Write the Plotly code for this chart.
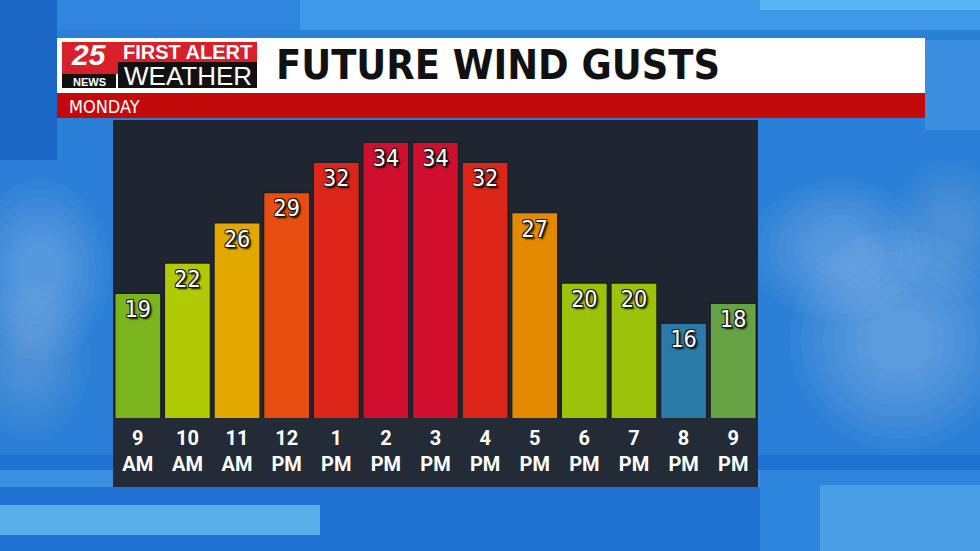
import plotly.graph_objects as go

# ---- data ----
hours = ["9 AM", "10 AM", "11 AM", "12 PM", "1 PM", "2 PM", "3 PM",
         "4 PM", "5 PM", "6 PM", "7 PM", "8 PM", "9 PM"]
tick_labels = ["9<br>AM", "10<br>AM", "11<br>AM", "12<br>PM", "1<br>PM", "2<br>PM",
               "3<br>PM", "4<br>PM", "5<br>PM", "6<br>PM", "7<br>PM", "8<br>PM", "9<br>PM"]
gusts = [19, 22, 26, 29, 32, 34, 34, 32, 27, 20, 20, 16, 18]
bar_colors = ["#7ab51d", "#b0cb05", "#e2a800", "#e84e0f", "#dc2418", "#d00e2e", "#d00e2e",
              "#dc2418", "#e38a00", "#9cc30a", "#9cc30a", "#2a7ba8", "#65a344"]
title_text = "FUTURE WIND GUSTS"
day_text = "MONDAY"

W, H = 980, 551


def px(x):
    return x / W


def py(y):
    return 1 - y / H


def rect(x0, y0, x1, y1, color, layer="below", opacity=1.0):
    return dict(type="rect", xref="paper", yref="paper",
                x0=px(x0), x1=px(x1), y0=py(y1), y1=py(y0),
                fillcolor=color, line=dict(width=0), layer=layer, opacity=opacity)


def ellipse(cx, cy, rx, ry, color, opacity):
    return dict(type="circle", xref="paper", yref="paper",
                x0=px(cx - rx), x1=px(cx + rx), y0=py(cy + ry), y1=py(cy - ry),
                fillcolor=color, line=dict(width=0), layer="below", opacity=opacity)


def cloud(cx, cy, rx, ry, opacity):
    # soft-edged blob from stacked translucent ellipses
    out = []
    for k in range(8):
        f = 1 - k * 0.1
        out.append(ellipse(cx, cy, rx * f, ry * f, "white", opacity))
    return out


outline = ("-1px -1px 0 #1a1a1a, 1px -1px 0 #1a1a1a, -1px 1px 0 #1a1a1a, "
           "1px 1px 0 #1a1a1a, 2px 2px 2px #000")
cond = "DejaVu Sans Condensed, Liberation Sans Narrow, DejaVu Sans, sans-serif"

fig = go.Figure()
fig.add_trace(go.Bar(
    x=hours, y=gusts,
    marker=dict(color=bar_colors, line=dict(color="#1b1f26", width=1.5)),
    text=[str(v) for v in gusts],
    textposition="inside", insidetextanchor="end",
    textfont=dict(family=cond, size=23, color="white", shadow=outline),
    constraintext="none", textangle=0,
    hoverinfo="skip",
))

shapes = []
# background sky
shapes += [
    rect(0, 0, 980, 551, "#2a7fd6"),
    rect(0, 0, 980, 30, "#3f98e8"),
    rect(0, 0, 300, 30, "#2f86dc"),
    rect(760, 0, 980, 10, "#5bb4f2"),
    rect(0, 0, 57, 160, "#1a66c4"),
    rect(925, 40, 980, 130, "#3c8fe0"),
]
# clouds
shapes += cloud(40, 270, 70, 90, 0.03)
shapes += cloud(30, 360, 60, 80, 0.025)
shapes += cloud(840, 250, 90, 70, 0.03)
shapes += cloud(900, 340, 110, 110, 0.035)
shapes += cloud(950, 230, 60, 70, 0.025)
shapes += [
    rect(0, 455, 980, 551, "#1f72d2"),
    rect(0, 470, 980, 487, "#3b90e2"),
    rect(0, 505, 320, 535, "#5aaeea"),
    rect(760, 470, 980, 551, "#2d86dc"),
    rect(820, 485, 980, 551, "#4a9ee6"),
]
# dark panel
shapes.append(rect(113, 120, 758, 487, "#232b36"))
shapes.append(rect(113, 120, 758, 418, "#1f2631"))
# banner
shapes.append(rect(57, 38, 925, 93, "white", layer="above"))
shapes.append(rect(57, 93, 925, 118, "#c4090b", layer="above"))
# logo
shapes.append(rect(62, 42, 118, 74, "#d8202a", layer="above"))
shapes.append(rect(62, 74, 116, 88, "#111111", layer="above"))
shapes.append(rect(118, 42, 257, 62, "#d8202a", layer="above"))
shapes.append(rect(118, 62, 257, 88, "#111111", layer="above"))

annotations = [
    dict(text="<b><i>25</i></b>", x=px(89), y=py(55), xref="paper", yref="paper",
         showarrow=False, xanchor="center", yanchor="middle",
         font=dict(family="Liberation Sans, Arial, sans-serif", size=30, color="white")),
    dict(text="<b>NEWS</b>", x=px(89), y=py(82), xref="paper", yref="paper",
         showarrow=False, xanchor="center", yanchor="middle",
         font=dict(family="Liberation Sans, Arial, sans-serif", size=11, color="white")),
    dict(text="<b>FIRST ALERT</b>", x=px(187.5), y=py(52), xref="paper", yref="paper",
         showarrow=False, xanchor="center", yanchor="middle",
         font=dict(family="Liberation Sans, Arial, sans-serif", size=20, color="white")),
    dict(text="WEATHER", x=px(187.5), y=py(75.5), xref="paper", yref="paper",
         showarrow=False, xanchor="center", yanchor="middle",
         font=dict(family="Liberation Sans, Arial, sans-serif", size=26, color="white")),
    dict(text="<b>" + title_text + "</b>", x=px(274), y=py(65), xref="paper", yref="paper",
         showarrow=False, xanchor="left", yanchor="middle",
         font=dict(family="DejaVu Sans Condensed, Liberation Sans Narrow, Roboto, sans-serif",
                   size=41, color="#111111")),
    dict(text=day_text, x=px(67), y=py(106), xref="paper", yref="paper",
         showarrow=False, xanchor="left", yanchor="middle",
         font=dict(family=cond, size=18, color="white")),
]

fig.update_layout(
    width=W, height=H,
    margin=dict(l=0, r=0, t=0, b=0),
    paper_bgcolor="#2a7fd6",
    plot_bgcolor="rgba(0,0,0,0)",
    showlegend=False,
    bargap=0.07,
    shapes=shapes,
    annotations=annotations,
    xaxis=dict(domain=[px(113), px(758)], tickmode="array", tickvals=hours, ticktext=tick_labels,
               tickfont=dict(family="Roboto, Liberation Sans, sans-serif", size=20, color="white",
                             weight="bold"),
               showgrid=False, zeroline=False, showline=False, ticks="", ticklabelstandoff=6,
               fixedrange=True),
    yaxis=dict(domain=[py(418), py(120)], range=[6.6, 36.2], visible=False, fixedrange=True),
)

fig.write_html("out.html", config={"displayModeBar": False},
               post_script="document.body.style.margin='0';")
